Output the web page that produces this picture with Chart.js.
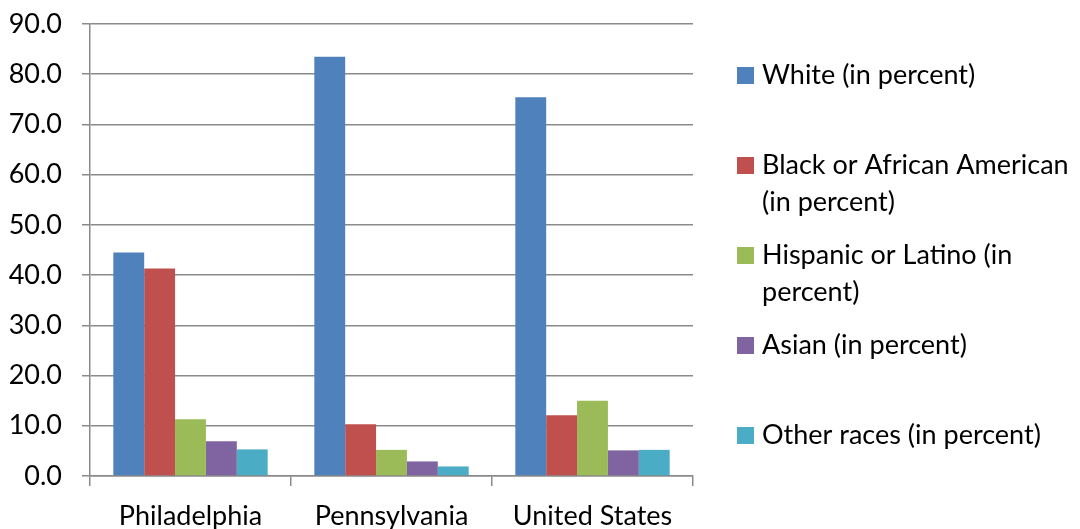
<!DOCTYPE html>
<html>
<head>
<meta charset="utf-8">
<script src="https://cdn.jsdelivr.net/npm/chart.js@4"></script>
<style>
  html, body { margin: 0; padding: 0; background: #fff; }
</style>
</head>
<body>
<canvas id="chart" width="1080" height="529"></canvas>
<script>
// population share by race, three areas
const places = ['Philadelphia', 'Pennsylvania', 'United States'];
const white = [44.5, 83.5, 75.4];
const black = [41.3, 10.3, 12.1];
const hispanic = [11.3, 5.2, 15.0];
const asian = [6.9, 2.9, 5.1];
const otherRaces = [5.3, 1.9, 5.2];

const seriesNames = [
  'White (in percent)',
  'Black or African American (in percent)',
  'Hispanic or Latino (in percent)',
  'Asian (in percent)',
  'Other races (in percent)'
];
const seriesColors = ['#4f81bd', '#c0504d', '#9bbb59', '#8064a2', '#4bacc6'];
const yTicks = [0, 10, 20, 30, 40, 50, 60, 70, 80, 90];

const FONT_FAMILY = 'Lato, "Noto Sans", sans-serif';
const FONT_SIZE = 27;
const lineColor = '#8a8a8a';

function wrapText(ctx, text, maxWidth) {
  const words = text.split(' ');
  const lines = [];
  let cur = '';
  words.forEach(w => {
    const test = cur ? cur + ' ' + w : w;
    if (ctx.measureText(test).width > maxWidth && cur) {
      lines.push(cur);
      cur = w;
    } else {
      cur = test;
    }
  });
  if (cur) lines.push(cur);
  return lines;
}

// legend on the right, one slot per series, long names wrap
const sideLegend = {
  id: 'sideLegend',
  afterDraw(chart) {
    const ctx = chart.ctx;
    ctx.save();
    ctx.font = FONT_SIZE + 'px ' + FONT_FAMILY;
    ctx.textAlign = 'left';
    ctx.textBaseline = 'alphabetic';
    chart.data.datasets.forEach((ds, i) => {
      const baseline = 84 + i * 90;
      ctx.fillStyle = ds.backgroundColor;
      ctx.fillRect(737, baseline - 17, 17, 17);
      ctx.fillStyle = '#000';
      wrapText(ctx, ds.label, 318).forEach((line, j) => {
        ctx.fillText(line, 762, baseline + j * 37);
      });
    });
    ctx.restore();
  }
};

const seriesValues = [white, black, hispanic, asian, otherRaces];

new Chart(document.getElementById('chart'), {
  type: 'bar',
  data: {
    labels: places,
    datasets: seriesValues.map((vals, i) => ({
      label: seriesNames[i],
      data: vals,
      backgroundColor: seriesColors[i],
      borderWidth: 0,
      barPercentage: 1,
      categoryPercentage: 0.768
    }))
  },
  options: {
    responsive: false,
    animation: false,
    devicePixelRatio: 1,
    layout: { padding: { top: 24, right: 387, left: 0, bottom: 0 } },
    plugins: {
      legend: { display: false },
      tooltip: { enabled: false }
    },
    scales: {
      x: {
        grid: {
          drawOnChartArea: false,
          drawTicks: true,
          tickLength: 10,
          color: lineColor,
          lineWidth: 1.5
        },
        border: { color: lineColor, width: 1.5 },
        ticks: {
          color: '#000',
          padding: 14,
          font: { family: FONT_FAMILY, size: FONT_SIZE }
        },
        afterFit(scale) { scale.height = 53; }
      },
      y: {
        min: 0,
        max: 90,
        afterBuildTicks(scale) {
          scale.ticks = yTicks.map(v => ({ value: v }));
        },
        ticks: {
          color: '#000',
          padding: 20,
          callback: v => v.toFixed(1),
          font: { family: FONT_FAMILY, size: FONT_SIZE }
        },
        grid: {
          color: lineColor,
          lineWidth: 1.5,
          tickLength: 8
        },
        border: { color: lineColor, width: 1.5 },
        afterFit(scale) {
          scale.width = 90;
          scale.paddingTop = 0;
          scale.paddingBottom = 0;
        }
      }
    }
  },
  plugins: [sideLegend]
});
</script>
</body>
</html>
